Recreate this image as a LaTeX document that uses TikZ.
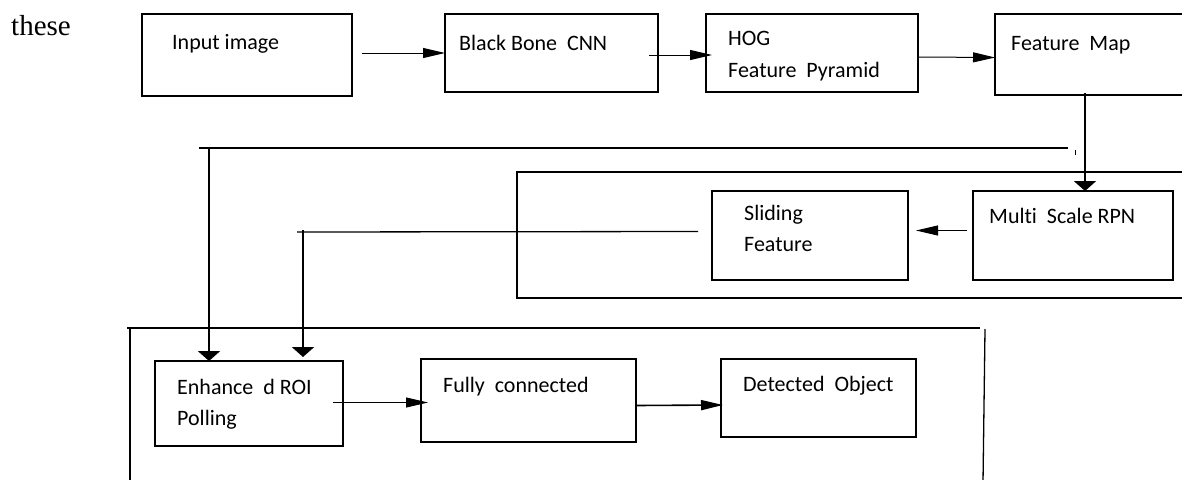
\documentclass[tikz,border=0pt]{standalone}
\usepackage{fontspec}
\setmainfont{Carlito}[Ligatures=NoCommon]
\newfontfamily\serifn{Liberation Serif}
\usetikzlibrary{arrows.meta,positioning}

\begin{document}
\begin{tikzpicture}[x=1pt,y=-1pt]
  \tikzstyle{boxn}=[rectangle,draw,line width=1.3pt,anchor=north west,inner sep=0,outer sep=0]
  \tikzstyle{txtn}=[anchor=base west,inner sep=0,font=\fontsize{22}{31}\selectfont,align=left]
  \tikzstyle{arrn}=[line width=1pt,-{Triangle[length=22pt,width=10pt]}]
  \tikzstyle{darr}=[line width=2.3pt,-{Triangle[length=10pt,width=22pt]}]
  \tikzstyle{linen}=[line width=1.3pt]
  \useasboundingbox (0,0) rectangle (1182,479);
  \node(these)[anchor=base west,inner sep=0,font=\serifn\fontsize{29}{34}\selectfont] at (11,35) {these};
  % top row
  \node(inp)[boxn,minimum width=210pt,minimum height=82pt] at (142,14) {};
  \node(bbc)[boxn,minimum width=213pt,minimum height=78pt] at (445,14) {};
  \node(hog)[boxn,minimum width=212pt,minimum height=78pt] at (706,14) {};
  \node(fmap)[boxn,minimum width=200pt,minimum height=81pt] at (995,14) {};
  \node(inpt)[txtn] at ([xshift=30pt,yshift=-35pt]inp.north west) {Input image};
  \node(bbct)[txtn] at ([xshift=14pt,yshift=-36pt]bbc.north west) {Black Bone\ \ CNN};
  \node(hogt)[txtn] at ([xshift=22pt,yshift=-31pt]hog.north west) {HOG};
  \node(hogu)[txtn] at ([xshift=22pt,yshift=-63pt]hog.north west) {Feature\ \ Pyramid};
  \node(fmapt)[txtn] at ([xshift=16pt,yshift=-36pt]fmap.north west) {Feature\ \ Map};
  % middle frame
  \node(midf)[boxn,minimum width=673pt,minimum height=126pt] at (517,172) {};
  \node(sld)[boxn,minimum width=196pt,minimum height=89pt] at (712,191) {};
  \node(rpn)[boxn,minimum width=200pt,minimum height=89pt] at (973,191) {};
  \node(sldt)[txtn] at ([xshift=32pt,yshift=-29pt]sld.north west) {Sliding};
  \node(sldu)[txtn] at ([xshift=32pt,yshift=-60pt]sld.north west) {Feature};
  \node(rpnt)[txtn] at ([xshift=16pt,yshift=-32pt]rpn.north west) {Multi\ \ Scale RPN};
  % bottom frame
  \draw[linen] (127,328) -- (980,328);
  \draw[linen] (130,328) -- (130,482);
  \draw[linen] (985,329) -- (983,482);
  \node(enh)[boxn,minimum width=188pt,minimum height=85pt] at (155,361) {};
  \node(fcn)[boxn,minimum width=215pt,minimum height=83pt] at (421,359) {};
  \node(det)[boxn,minimum width=195pt,minimum height=78pt] at (721,359) {};
  \node(enht)[txtn] at ([xshift=22pt,yshift=-33pt]enh.north west) {Enhance\ \ d ROI};
  \node(enhu)[txtn] at ([xshift=22pt,yshift=-64pt]enh.north west) {Polling};
  \node(fcnt)[txtn] at ([xshift=22pt,yshift=-33pt]fcn.north west) {Fully\ \ connected};
  \node(dett)[txtn] at ([xshift=22pt,yshift=-32pt]det.north west) {Detected\ \ Object};
  % connectors
  \draw[arrn] ([xshift=10pt,yshift=2pt]inp.east) -- (bbc.west);
  \draw[arrn] ([xshift=-9pt,yshift=-2pt]bbc.east) -- ([xshift=6pt,yshift=-2pt]hog.west);
  \draw[arrn] ([yshift=-4pt]hog.east) -- ([yshift=-3pt]fmap.west);
  \coordinate (fmo) at (1085,93);
  \draw[darr] (fmo) -- (fmo |- rpn.north);
  \draw[line width=1pt] (1075,150) -- (1075,155);
  \draw[arrn] ([xshift=-6pt,yshift=5pt]rpn.west) -- ([xshift=8pt,yshift=5pt]sld.east);
  \coordinate (lk) at (1068,148);
  \coordinate (ld) at (209,148);
  \draw[linen] (lk) -- ([xshift=-10pt]ld);
  \draw[darr] (ld) -- (ld |- enh.north);
  \coordinate (sk) at (303,232);
  \draw[linen] ([xshift=-14pt,yshift=4pt]sld.west) -- ([xshift=-6pt]sk);
  \draw[darr] ([yshift=2pt]sk) -- ([yshift=4pt]sk |- enh.north);
  \draw[arrn] ([xshift=-10pt,yshift=1pt]enh.east) -- ([xshift=7pt,yshift=-2pt]fcn.west);
  \draw[arrn,line width=1.6pt] ([yshift=-5pt]fcn.east) -- ([xshift=2pt,yshift=-7pt]det.west);
\end{tikzpicture}
\end{document}
